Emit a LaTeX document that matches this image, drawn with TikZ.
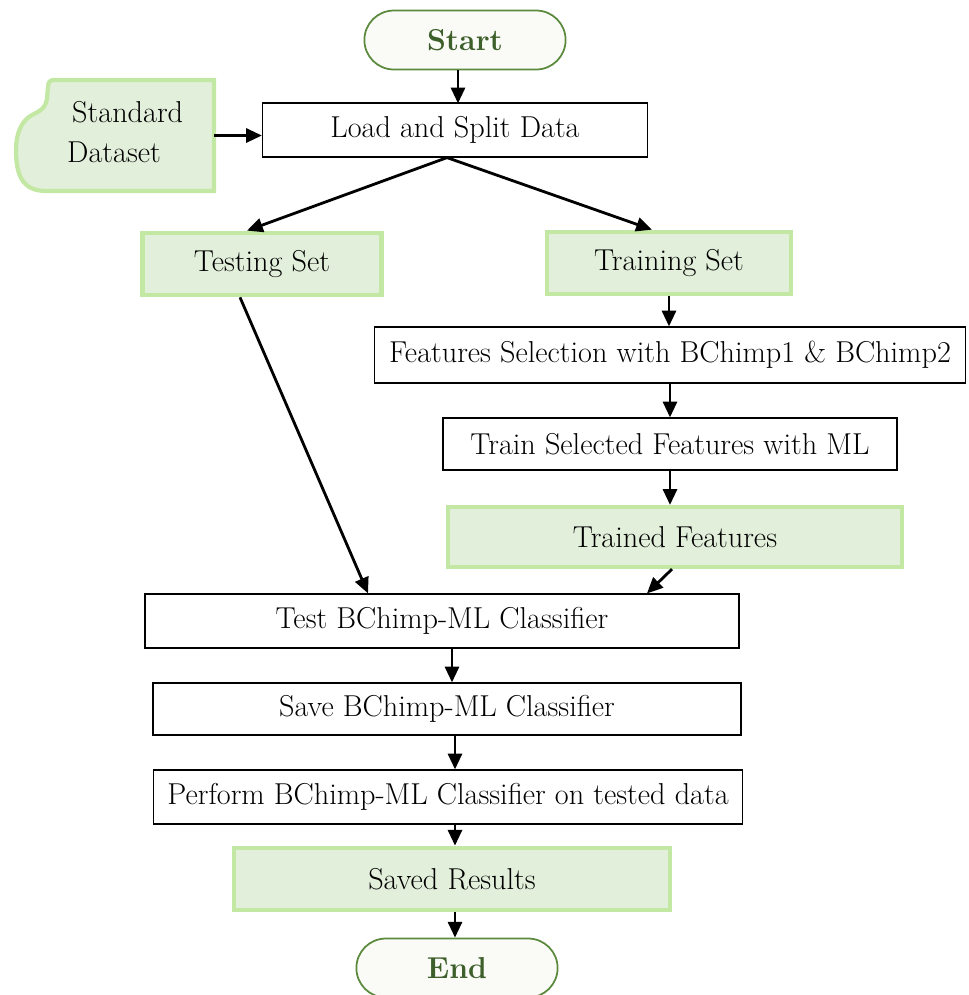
\documentclass[tikz,border=0pt]{standalone}
\usepackage{tikz}
\usetikzlibrary{arrows.meta,shapes.misc}
\definecolor{leafFill}{HTML}{E2EFDA}
\definecolor{leafGlow}{HTML}{C2E8A4}
\definecolor{termLine}{HTML}{5B8A3C}
\definecolor{termText}{HTML}{3D5F2A}
\definecolor{termFill}{HTML}{FAFAF7}

\begin{document}
\begin{tikzpicture}[x=0.02cm,y=-0.02cm,font=\fontsize{17.2}{21}\selectfont,
  >={Triangle[length=9pt,width=8pt]},
  flow/.style={->,line width=1.6pt},
  procbox/.style={draw,line width=0.7pt,fill=white,minimum height=1.08cm},
  setbox/.style={draw=leafGlow,line width=2.4pt,fill=leafFill,minimum height=1.25cm},
  termbox/.style={rounded rectangle,draw=termLine,line width=1pt,fill=termFill,
    minimum width=4.26cm,minimum height=1.18cm,font=\fontsize{17.2}{21}\selectfont\bfseries,text=termText}]
\useasboundingbox (0,0) rectangle (968,995);
% terminals
\node[termbox] (start) at (465,40) {Start};
\node[termbox] (stop) at (457,968) {End};
% data source
\draw[leafGlow,line width=2.4pt,fill=leafFill] (214,80) -- (54,80)
  .. controls (50,80) and (48,82) .. (48,87) -- (47,98)
  .. controls (46,108) and (40,111) .. (32,115)
  .. controls (21,121) and (16,134) .. (16,150)
  .. controls (16,176) and (23,191) .. (46,191) -- (214,191) -- cycle;
\node[minimum width=3.96cm,minimum height=2.22cm] (dset) at (115,135.5) {};
\node[align=left,anchor=west] (dsetlbl) at (61,132) {\,Standard\\[2pt]Dataset};
% boxes
\node[procbox,minimum width=7.7cm] (load) at (455,130) {Load and Split Data};
\node[setbox,minimum width=4.78cm] (test) at (262,264) {Testing Set};
\node[setbox,minimum width=4.88cm] (train) at (669,263) {Training Set};
\node[procbox,minimum width=11.82cm,minimum height=1.12cm] (fsel) at (670,355) {Features Selection with BChimp1 \& BChimp2};
\node[procbox,minimum width=9.08cm,minimum height=1.04cm] (tsel) at (670,444) {Train Selected Features with ML};
\node[setbox,minimum width=9.08cm,minimum height=1.2cm] (tfeat) at (675,537) {Trained Features};
\node[procbox,minimum width=11.88cm] (tclf) at (442,621) {Test BChimp-ML Classifier};
\node[procbox,minimum width=11.76cm,minimum height=1.04cm] (sclf) at (447,709) {Save BChimp-ML Classifier};
\node[procbox,minimum width=11.78cm] (pclf) at (448,797) {Perform BChimp-ML Classifier on tested data};
\node[setbox,minimum width=8.72cm] (sres) at (452,879) {Saved Results};
% arrows
\draw[flow] (start.south -| load.north) ++(3,0) -- ++(0,33);
\draw[flow] (dset.east) -- (dset.east -| load.west);
\draw[flow] ([xshift=-0.16cm]load.south) -- ([xshift=-0.3cm]test.north);
\draw[flow] ([xshift=-0.16cm]load.south) -- ([xshift=-0.34cm]train.north);
\draw[flow] (train.south) -- (train.south |- fsel.north);
\draw[flow] (fsel.south) -- (tsel.north);
\draw[flow] (tsel.south) -- (tsel.south |- tfeat.north);
\draw[flow] ([xshift=-0.06cm]tfeat.south) -- ([xshift=4.1cm]tclf.north);
\draw[flow] ([xshift=-0.44cm]test.south) -- ([xshift=-1.48cm]tclf.north);
\draw[flow] ([xshift=0.2cm]tclf.south) -- ([xshift=0.2cm]tclf.south |- sclf.north);
\draw[flow] ([xshift=0.16cm]sclf.south) -- ([xshift=0.16cm]sclf.south |- pclf.north);
\draw[flow] ([xshift=0.14cm]pclf.south) -- ([xshift=0.14cm]pclf.south |- sres.north);
\draw[flow] ([xshift=0.06cm]sres.south) -- ([xshift=0.06cm]sres.south |- stop.north);
\end{tikzpicture}
\end{document}
